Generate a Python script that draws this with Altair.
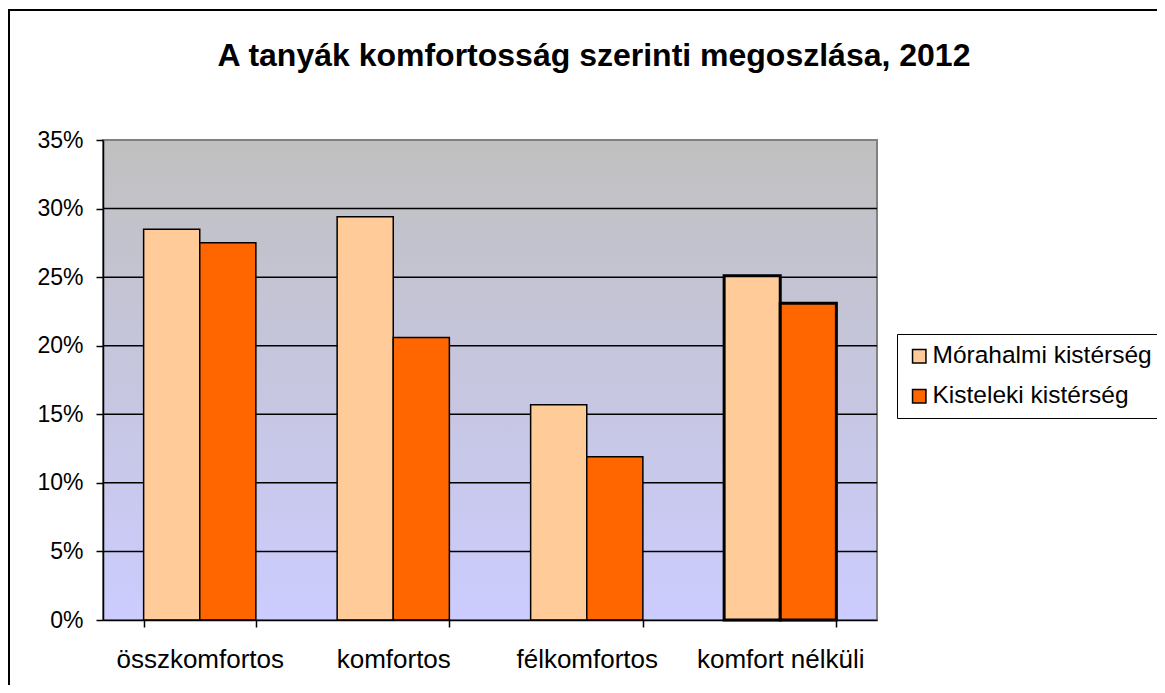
import altair as alt
import pandas as pd

categories = ["összkomfortos", "komfortos", "félkomfortos", "komfort nélküli"]
series = ["Mórahalmi kistérség", "Kisteleki kistérség"]
morahalmi = [0.285, 0.294, 0.157, 0.251]
kisteleki = [0.275, 0.206, 0.119, 0.231]
y_ticks = [0, 0.05, 0.10, 0.15, 0.20, 0.25, 0.30, 0.35]
grid_values = [0.05, 0.10, 0.15, 0.20, 0.25, 0.30]
colors = ["#FFCC99", "#FF6600"]

rows = []
for c, m, k in zip(categories, morahalmi, kisteleki):
    rows.append({"cat": c, "series": series[0], "value": m})
    rows.append({"cat": c, "series": series[1], "value": k})
df = pd.DataFrame(rows)
grid_df = pd.DataFrame({"value": grid_values})
one = pd.DataFrame({"d": [0]})

FONT = "Liberation Sans"
W, H = 774, 480

yscale = alt.Scale(domain=[0, 0.35], nice=False, zero=True)
yaxis = alt.Axis(title=None, values=y_ticks, format=".0%", grid=False,
                 labelFont=FONT, labelFontSize=23, labelColor="black",
                 labelPadding=13, tickSize=7, tickColor="black", tickWidth=1.5,
                 domainColor="black", domainWidth=1.5, zindex=1)

bg = alt.Chart(one).mark_rect(
    fill=alt.LinearGradient(gradient="linear",
                            stops=[alt.GradientStop(color="#C0C0C0", offset=0),
                                   alt.GradientStop(color="#CCCCFF", offset=1)],
                            x1=0, x2=0, y1=0, y2=1),
    stroke="#808080", strokeWidth=2,
).encode(x=alt.value(0), x2=alt.value(W), y=alt.value(0), y2=alt.value(H))

frame = alt.Chart(one).mark_rect(fillOpacity=0, stroke="black", strokeWidth=2).encode(
    x=alt.value(9 - 103), x2=alt.value(1300), y=alt.value(10 - 140), y2=alt.value(800))

grid = alt.Chart(grid_df).mark_rule(color="black", strokeWidth=1.5).encode(
    y=alt.Y("value:Q", scale=yscale, axis=yaxis))

bars = alt.Chart(df).mark_bar(stroke="black").encode(
    x=alt.X("cat:N", sort=categories,
            scale=alt.Scale(paddingInner=0.42, paddingOuter=0.21),
            axis=alt.Axis(title=None, labelAngle=0, labelFont=FONT, labelFontSize=26,
                          labelColor="black", labelPadding=19, tickBand="extent",
                          tickSize=7, tickColor="black", tickWidth=1.5,
                          domainColor="black", domainWidth=1.5, zindex=1)),
    xOffset=alt.XOffset("series:N", sort=series),
    y=alt.Y("value:Q", scale=yscale, axis=yaxis),
    color=alt.Color("series:N", sort=series,
                    scale=alt.Scale(domain=series, range=colors),
                    legend=alt.Legend(title=None, orient="none", legendX=794, legendY=194,
                                      padding=10, rowPadding=15, strokeColor="black",
                                      fillColor="white", symbolType="square",
                                      symbolSize=180, symbolStrokeColor="black",
                                      symbolStrokeWidth=1.5, symbolOffset=0,
                                      labelOffset=1, labelFont=FONT, labelFontSize=24.5,
                                      labelColor="black", labelLimit=400)),
    strokeWidth=alt.condition(alt.datum.cat == "komfort nélküli", alt.value(3), alt.value(1.5)),
)

chart = alt.layer(frame, bg, grid, bars).properties(
    width=W, height=H,
    title=alt.TitleParams("A tanyák komfortosság szerinti megoszlása, 2012",
                          font=FONT, fontSize=32, fontWeight="bold", color="black",
                          anchor="middle", dx=104, offset=0, dy=64),
    autosize=alt.AutoSizeParams(type="none"),
    padding={"left": 95, "top": 132, "right": 280, "bottom": 65},
    background="white",
).configure_view(stroke="transparent")

chart.save("out.html", embed_options={"renderer": "svg", "actions": False})
